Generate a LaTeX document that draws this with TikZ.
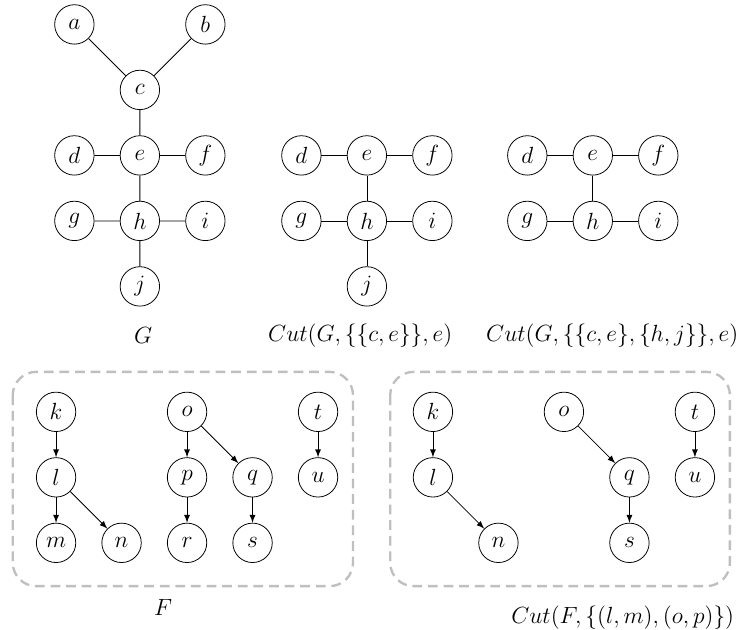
\documentclass[tikz,border=0pt]{standalone}
\usepackage{amsmath,amssymb}
\usepackage{tikz}
\usetikzlibrary{positioning}
\tikzset{
  vnode/.style={circle,draw,inner sep=0.8pt,minimum size=0.71cm},
  darc/.style={-latex},
  groupbox/.style={draw=gray!50,line width=1.2pt,dash pattern=on 5pt off 3pt,rounded corners=12pt}
}

\begin{document}
\begin{tikzpicture}[node distance=1.18cm and 1.18cm, on grid, font=\large]
  \useasboundingbox (0,0) rectangle (13.35,-11.35);
  % G
  \node[vnode] (c) at (2.52,-1.62) {$c$};
  \node[vnode, above left=of c] (a) {$a$};
  \node[vnode, above right=of c] (b) {$b$};
  \node[vnode, below=of c] (e) {$e$};
  \node[vnode, left=of e] (d) {$d$};
  \node[vnode, right=of e] (f) {$f$};
  \node[vnode, below=of e] (h) {$h$};
  \node[vnode, left=of h] (g) {$g$};
  \node[vnode, right=of h] (i) {$i$};
  \node[vnode, below=of h] (j) {$j$};
  \draw (a) -- (c) (b) -- (c) (c) -- (e) (d) -- (e) (e) -- (f)
        (e) -- (h) (g) -- (h) (h) -- (i) (h) -- (j);
  \node (lblG) at (2.58,-6.04) {$G$};

  % Cut(G,{{c,e}},e)
  \node[vnode] (e1) at (6.61,-2.80) {$e$};
  \node[vnode, left=of e1] (d1) {$d$};
  \node[vnode, right=of e1] (f1) {$f$};
  \node[vnode, below=of e1] (h1) {$h$};
  \node[vnode, left=of h1] (g1) {$g$};
  \node[vnode, right=of h1] (i1) {$i$};
  \node[vnode, below=of h1] (j1) {$j$};
  \draw (d1) -- (e1) (e1) -- (f1) (e1) -- (h1) (g1) -- (h1) (h1) -- (i1) (h1) -- (j1);
  \node (lblcut1) at (6.49,-6.04) {$Cut(G,\{\{c,e\}\},e)$};

  % Cut(G,{{c,e},{h,j}},e)
  \node[vnode] (e2) at (10.68,-2.80) {$e$};
  \node[vnode, left=of e2] (d2) {$d$};
  \node[vnode, right=of e2] (f2) {$f$};
  \node[vnode, below=of e2] (h2) {$h$};
  \node[vnode, left=of h2] (g2) {$g$};
  \node[vnode, right=of h2] (i2) {$i$};
  \draw (d2) -- (e2) (e2) -- (f2) (e2) -- (h2) (g2) -- (h2) (h2) -- (i2);
  \node (lblcut2) at (11.03,-6.04) {$Cut(G,\{\{c,e\},\{h,j\}\},e)$};

  % F
  \draw[groupbox] (0.23,-6.70) rectangle (6.36,-10.56);
  \node[vnode] (k) at (1.01,-7.42) {$k$};
  \node[vnode, below=of k] (l) {$l$};
  \node[vnode, below=of l] (m) {$m$};
  \node[vnode, below right=of l] (n) {$n$};
  \node[vnode, right=2.36cm of k] (o) {$o$};
  \node[vnode, below=of o] (p) {$p$};
  \node[vnode, below=of p] (r) {$r$};
  \node[vnode, below right=of o] (q) {$q$};
  \node[vnode, below=of q] (s) {$s$};
  \node[vnode, right=4.72cm of k] (t) {$t$};
  \node[vnode, below=of t] (u) {$u$};
  \draw[darc] (k) -- (l);
  \draw[darc] (l) -- (m);
  \draw[darc] (l) -- (n);
  \draw[darc] (o) -- (p);
  \draw[darc] (o) -- (q);
  \draw[darc] (p) -- (r);
  \draw[darc] (q) -- (s);
  \draw[darc] (t) -- (u);
  \node (lblF) at (2.94,-10.94) {$F$};

  % Cut(F,{(l,m),(o,p)})
  \draw[groupbox] (7.03,-6.70) rectangle (13.15,-10.56);
  \node[vnode] (k1) at (7.80,-7.42) {$k$};
  \node[vnode, below=of k1] (l1) {$l$};
  \node[vnode, below right=of l1] (n1) {$n$};
  \node[vnode, right=2.36cm of k1] (o1) {$o$};
  \node[vnode, below right=of o1] (q1) {$q$};
  \node[vnode, below=of q1] (s1) {$s$};
  \node[vnode, right=4.72cm of k1] (t1) {$t$};
  \node[vnode, below=of t1] (u1) {$u$};
  \draw[darc] (k1) -- (l1);
  \draw[darc] (l1) -- (n1);
  \draw[darc] (o1) -- (q1);
  \draw[darc] (q1) -- (s1);
  \draw[darc] (t1) -- (u1);
  \node (lblcutF) at (11.22,-11.12) {$Cut(F,\{(l,m),(o,p)\})$};
\end{tikzpicture}
\end{document}
